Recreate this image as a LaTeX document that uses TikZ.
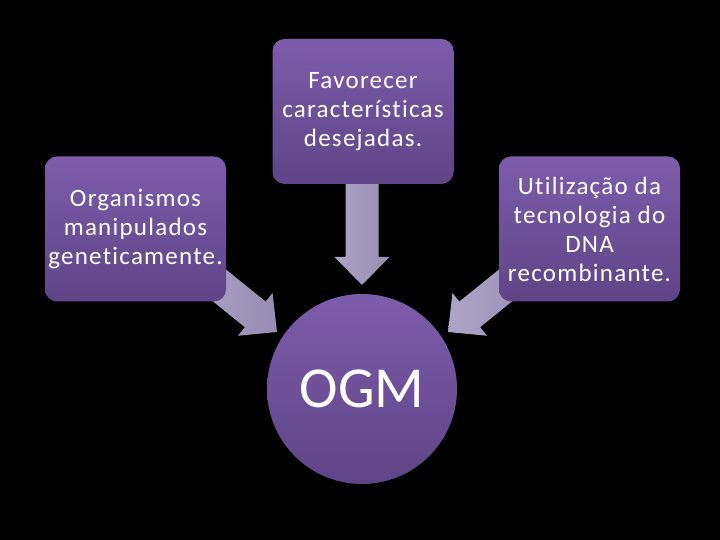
\documentclass[tikz,border=0pt]{standalone}
\usepackage{fontspec}
\setmainfont{Carlito}[Ligatures=NoCommon]
\newfontfamily\boxfont{Carlito}[Ligatures=NoCommon, LetterSpace=5]
\usetikzlibrary{calc}
\definecolor{boxtop}{HTML}{7D5CAB}
\definecolor{boxbot}{HTML}{5E4586}
\definecolor{arrlight}{HTML}{ADA5C6}
\definecolor{arrdark}{HTML}{978DB2}
\tikzset{
  purplebox/.style={rounded corners=12pt, minimum width=181pt, minimum height=145pt,
    top color=boxtop, bottom color=boxbot, text=white, align=center, inner sep=0pt,
    font=\boxfont\fontsize{25}{29}\selectfont},
  purplecircle/.style={circle, minimum size=190pt, inner sep=0pt,
    top color=boxtop, bottom color=boxbot, text=white, font=\fontsize{58}{60}\selectfont},
}
\newcommand\fatarrow[2]{%
  \begin{scope}[shift={(#1)}, rotate=#2]
    \shade[left color=arrlight, right color=arrdark]
      (0,0) -- (-28,27.5) -- (-28,16.5) -- (-115,16.5) -- (-115,-16.5)
      -- (-28,-16.5) -- (-28,-27.5) -- cycle;
  \end{scope}}
\begin{document}
\begin{tikzpicture}[x=1pt,y=1pt]
  \fill[black] (0,0) rectangle (720,540);
  \useasboundingbox (0,0) rectangle (720,540);
  \coordinate (tiptop) at (362,255);
  \coordinate (tipleft) at (277,208);
  \coordinate (tipright) at (448,208);
  \fatarrow{tiptop}{-90}
  \fatarrow{tipleft}{-39}
  \fatarrow{tipright}{-141}
  \node[purplebox] (top) at (363,428.5) {Favorecer\\características\\desejadas.};
  \node[purplebox] (left) at (135.5,311) {Organismos\\manipulados\\geneticamente.};
  \node[purplebox] (right) at (589.5,311) {Utilização da\\tecnologia do\\DNA\\recombinante.};
  \node[purplecircle] (ogm) at (362,151) {OGM};
\end{tikzpicture}
\end{document}
